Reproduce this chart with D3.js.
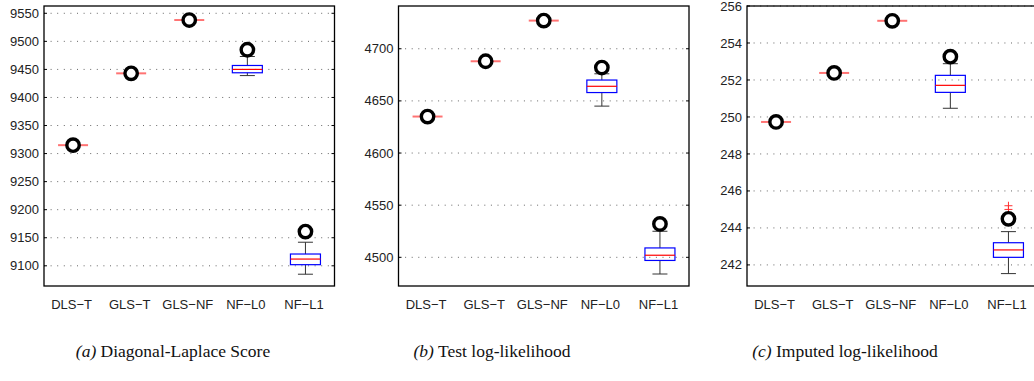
<!DOCTYPE html>
<html>
<head>
<meta charset="utf-8">
<script src="https://cdn.jsdelivr.net/npm/d3@7"></script>
<style>
  body { margin: 0; background: #fff; }
  .tick-label { font-family: "Liberation Sans", Arial, sans-serif; font-size: 13px; fill: #222; }
  .caption { font-family: "Liberation Serif", "Times New Roman", serif; font-size: 17.5px; fill: #111; }
</style>
</head>
<body>
<script>
var methods = ['DLS\u2212T', 'GLS\u2212T', 'GLS\u2212NF', 'NF\u2212L0', 'NF\u2212L1'];

// box stats per method: [low whisker, q1, median, q3, high whisker]
var statsA = [[9315, 9315, 9315, 9315, 9315], [9443, 9443, 9443, 9443, 9443], [9538, 9538, 9538, 9538, 9538],
              [9439, 9444, 9450, 9457, 9473], [9085, 9102, 9112, 9121, 9142]];
var circlesA = [9315, 9443, 9538, 9485, 9161];
var ticksA = [9100, 9150, 9200, 9250, 9300, 9350, 9400, 9450, 9500, 9550];

var statsB = [[4635, 4635, 4635, 4635, 4635], [4688, 4688, 4688, 4688, 4688], [4727, 4727, 4727, 4727, 4727],
              [4645, 4658, 4664, 4670, 4676], [4484, 4497, 4502, 4509, 4525]];
var circlesB = [4635, 4688, 4727, 4682, 4532];
var ticksB = [4500, 4550, 4600, 4650, 4700];

var statsC = [[249.73, 249.73, 249.73, 249.73, 249.73], [252.38, 252.38, 252.38, 252.38, 252.38], [255.2, 255.2, 255.2, 255.2, 255.2],
              [250.47, 251.33, 251.71, 252.25, 252.88], [241.53, 242.41, 242.81, 243.2, 243.8]];
var circlesC = [249.73, 252.38, 255.2, 253.26, 244.49];
var outliersC = [[], [], [], [], [245.0, 245.2]];
var ticksC = [242, 244, 246, 248, 250, 252, 254, 256];

var captionLetters = ['(a)', '(b)', '(c)'];
var captionTexts = ['Diagonal-Laplace Score', 'Test log-likelihood', 'Imputed log-likelihood'];

var panels = [
  {left: 44, domain: [9064, 9563], stats: statsA, circles: circlesA, outliers: [[], [], [], [], []], ticks: ticksA, capX: 173},
  {left: 398.5, domain: [4472.5, 4741], stats: statsB, circles: circlesB, outliers: [[], [], [], [], []], ticks: ticksB, capX: 492},
  {left: 747, domain: [240.86, 256], stats: statsC, circles: circlesC, outliers: outliersC, ticks: ticksC, capX: 845}
];

var W = 1034, H = 381;
var pw = 290.5, plotTop = 6, plotBottom = 286;

var svg = d3.select("body").append("svg")
    .attr("width", W)
    .attr("height", H);

panels.forEach(function(p, i) {
  var g = svg.append("g").attr("transform", "translate(" + p.left + ",0)");

  var x = d3.scaleBand().domain(methods).range([0, pw]).padding(0);
  var y = d3.scaleLinear().domain(p.domain).range([plotBottom, plotTop]);
  var bw = 30, cw = 15;

  // dotted grid
  g.selectAll(".grid").data(p.ticks).enter().append("line")
      .attr("x1", 0).attr("x2", pw)
      .attr("y1", function(d) { return y(d); }).attr("y2", function(d) { return y(d); })
      .attr("stroke", "#666").attr("stroke-width", 1)
      .attr("stroke-dasharray", "1,5.6");

  // tick marks inside on both sides
  g.selectAll(".tl").data(p.ticks).enter().append("line")
      .attr("x1", 0).attr("x2", 3)
      .attr("y1", function(d) { return y(d); }).attr("y2", function(d) { return y(d); })
      .attr("stroke", "#000");
  g.selectAll(".tr").data(p.ticks).enter().append("line")
      .attr("x1", pw - 3).attr("x2", pw)
      .attr("y1", function(d) { return y(d); }).attr("y2", function(d) { return y(d); })
      .attr("stroke", "#000");

  // y tick labels
  g.selectAll(".yl").data(p.ticks).enter().append("text")
      .attr("class", "tick-label")
      .attr("x", -5)
      .attr("y", function(d) { return y(d); })
      .attr("dy", "0.35em")
      .attr("text-anchor", "end")
      .text(function(d) { return d; });

  // x labels
  g.selectAll(".xl").data(methods).enter().append("text")
      .attr("class", "tick-label")
      .attr("x", function(d) { return x(d) + x.bandwidth() / 2 - 1.5; })
      .attr("y", plotBottom + 23)
      .attr("text-anchor", "middle")
      .text(function(d) { return d; });

  // boxes
  var boxes = g.selectAll(".box").data(p.stats).enter().append("g")
      .attr("transform", function(d, j) { return "translate(" + (x(methods[j]) + x.bandwidth() / 2) + ",0)"; });

  // whiskers
  boxes.append("line")
      .attr("x1", 0).attr("x2", 0)
      .attr("y1", function(d) { return y(d[0]); }).attr("y2", function(d) { return y(d[1]); })
      .attr("stroke", "#333");
  boxes.append("line")
      .attr("x1", 0).attr("x2", 0)
      .attr("y1", function(d) { return y(d[3]); }).attr("y2", function(d) { return y(d[4]); })
      .attr("stroke", "#333");
  boxes.filter(function(d) { return d[0] !== d[4]; }).append("line")
      .attr("x1", -cw / 2).attr("x2", cw / 2)
      .attr("y1", function(d) { return y(d[0]); }).attr("y2", function(d) { return y(d[0]); })
      .attr("stroke", "#333");
  boxes.filter(function(d) { return d[0] !== d[4]; }).append("line")
      .attr("x1", -cw / 2).attr("x2", cw / 2)
      .attr("y1", function(d) { return y(d[4]); }).attr("y2", function(d) { return y(d[4]); })
      .attr("stroke", "#333");

  boxes.append("rect")
      .attr("x", -bw / 2)
      .attr("y", function(d) { return y(d[3]); })
      .attr("width", bw)
      .attr("height", function(d) { return Math.max(0, y(d[1]) - y(d[3])); })
      .attr("fill", "none")
      .attr("stroke", "#0000ff")
      .attr("stroke-width", function(d) { return d[1] === d[3] ? 2 : 1.2; });
  boxes.append("line")
      .attr("x1", -bw / 2).attr("x2", bw / 2)
      .attr("y1", function(d) { return y(d[2]); }).attr("y2", function(d) { return y(d[2]); })
      .attr("stroke", "#ff0000")
      .attr("stroke-opacity", function(d) { return d[1] === d[3] ? 0.55 : 1; })
      .attr("stroke-width", function(d) { return d[1] === d[3] ? 2 : 1.2; });

  // outliers
  p.outliers.forEach(function(list, j) {
    var cx = x(methods[j]) + x.bandwidth() / 2;
    list.forEach(function(v) {
      g.append("path")
          .attr("d", "M" + (cx - 4) + "," + y(v) + "h8M" + cx + "," + (y(v) - 4) + "v8")
          .attr("stroke", "#ff3030").attr("stroke-width", 1).attr("fill", "none");
    });
  });

  // circles (best value)
  g.selectAll(".dot").data(p.circles).enter().append("circle")
      .attr("cx", function(d, j) { return x(methods[j]) + x.bandwidth() / 2; })
      .attr("cy", function(d) { return y(d); })
      .attr("r", 6.2)
      .attr("fill", "#fff")
      .attr("stroke", "#000")
      .attr("stroke-width", 3.4);

  // frame
  g.append("rect")
      .attr("x", 0).attr("y", plotTop)
      .attr("width", pw).attr("height", plotBottom - plotTop)
      .attr("fill", "none")
      .attr("stroke", "#000")
      .attr("stroke-width", 1.3);

  // caption
  var cap = svg.append("text")
      .attr("class", "caption")
      .attr("x", p.capX)
      .attr("y", 357)
      .attr("text-anchor", "middle");
  cap.append("tspan").attr("font-style", "italic").text(captionLetters[i]);
  cap.append("tspan").text(" " + captionTexts[i]);
});
</script>
</body>
</html>
